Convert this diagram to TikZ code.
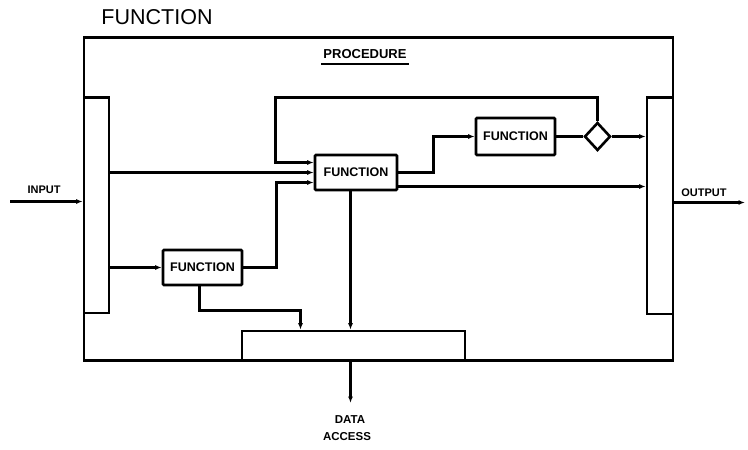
\documentclass[tikz,border=0pt]{standalone}
\usepackage{fontspec}
\setmainfont{Liberation Sans}
\usetikzlibrary{arrows.meta,shapes.geometric,calc}
\begin{document}
\begin{tikzpicture}[x=1pt,y=-1pt,
  line width=2.6pt,
  box/.style={draw,rectangle,inner sep=0pt,line width=2.6pt},
  fbox/.style={box,rounded corners=1pt,font=\bfseries\fontsize{12.5}{12.5}\selectfont},
  arr/.style={line width=2.6pt,-{Latex[length=6.5pt,width=5pt]}},
  lbl/.style={inner sep=0pt,font=\bfseries\fontsize{11}{11}\selectfont}]
\useasboundingbox (0,0) rectangle (748,450);
% outer box and bars
\node[box,minimum width=589pt,minimum height=323pt] (outer) at (378.5,199) {};
\node[box,minimum width=25pt,minimum height=215.5pt] (lbar) at (96.5,205.25) {};
\node[box,minimum width=26pt,minimum height=216.5pt] (rbar) at (660,205.75) {};
% functions
\node[fbox,minimum width=82pt,minimum height=35pt] (f1) at (356,172.5) {FUNCTION};
\node[fbox,minimum width=79pt,minimum height=35pt] (f2) at (202.5,267.5) {FUNCTION};
\node[fbox,minimum width=79pt,minimum height=37pt] (f3) at (515.5,136.5) {FUNCTION};
\node[draw,diamond,inner sep=0pt,minimum width=26pt,minimum height=28pt,line width=2.6pt] (dia) at (597.5,136.5) {};
\node[box,minimum width=223pt,minimum height=29pt] (store) at (353.5,345.5) {};
% texts
\node[inner sep=0pt,font=\fontsize{21.5}{21.5}\selectfont] (title) at (157,17) {FUNCTION};
\node[inner sep=1pt,font=\bfseries\fontsize{13}{13}\selectfont] (proc) at (365,54) {PROCEDURE};
\draw ([yshift=-3pt]proc.south west) -- ([yshift=-3pt]proc.south east);
\node[lbl] (inlbl) at (44,190) {INPUT};
\node[lbl] (outlbl) at (704,193) {OUTPUT};
\node[lbl,font=\bfseries\fontsize{11.5}{11.5}\selectfont] (data) at (350,420) {DATA};
\node[lbl,font=\bfseries\fontsize{11.5}{11.5}\selectfont] (access) at (347,437) {ACCESS};
% coordinates
\coordinate (inp) at (10,201.5);
\coordinate (outp) at (745,202.5);
\coordinate (fb) at (275.5,97.5);
\coordinate (s1) at (300.5,310.5);
\coordinate (da) at (350.5,403);
% connectors
\draw[arr] (inp) -- (inp -| lbar.west);
\draw[arr] (lbar.east |- f1.west) -- (f1.west);
\draw[arr] (lbar.east |- f2.west) -- (f2.west);
\draw[arr] (f2.east) -- ++(33,0) |- ([yshift=-10pt]f1.west);
\draw[arr] (dia.north) |- (fb) |- ([yshift=10pt]f1.west);
\draw[arr] (f1.east) -- ++(35,0) |- (f3.west);
\draw (f3.east) -- (dia.west);
\draw[arr] (dia.east) -- (dia.east -| rbar.west);
\draw[arr] ([yshift=-14pt]f1.east) -- ([yshift=-14pt]f1.east -| rbar.west);
\draw[arr] (rbar.east |- outp) -- (outp);
\draw[arr] (f1.south -| da) -- (da |- store.north);
\draw[arr] ([xshift=-3pt]f2.south) |- (s1) -- (s1 |- store.north);
\draw[arr] (store.south -| da) -- (da);
\end{tikzpicture}
\end{document}
